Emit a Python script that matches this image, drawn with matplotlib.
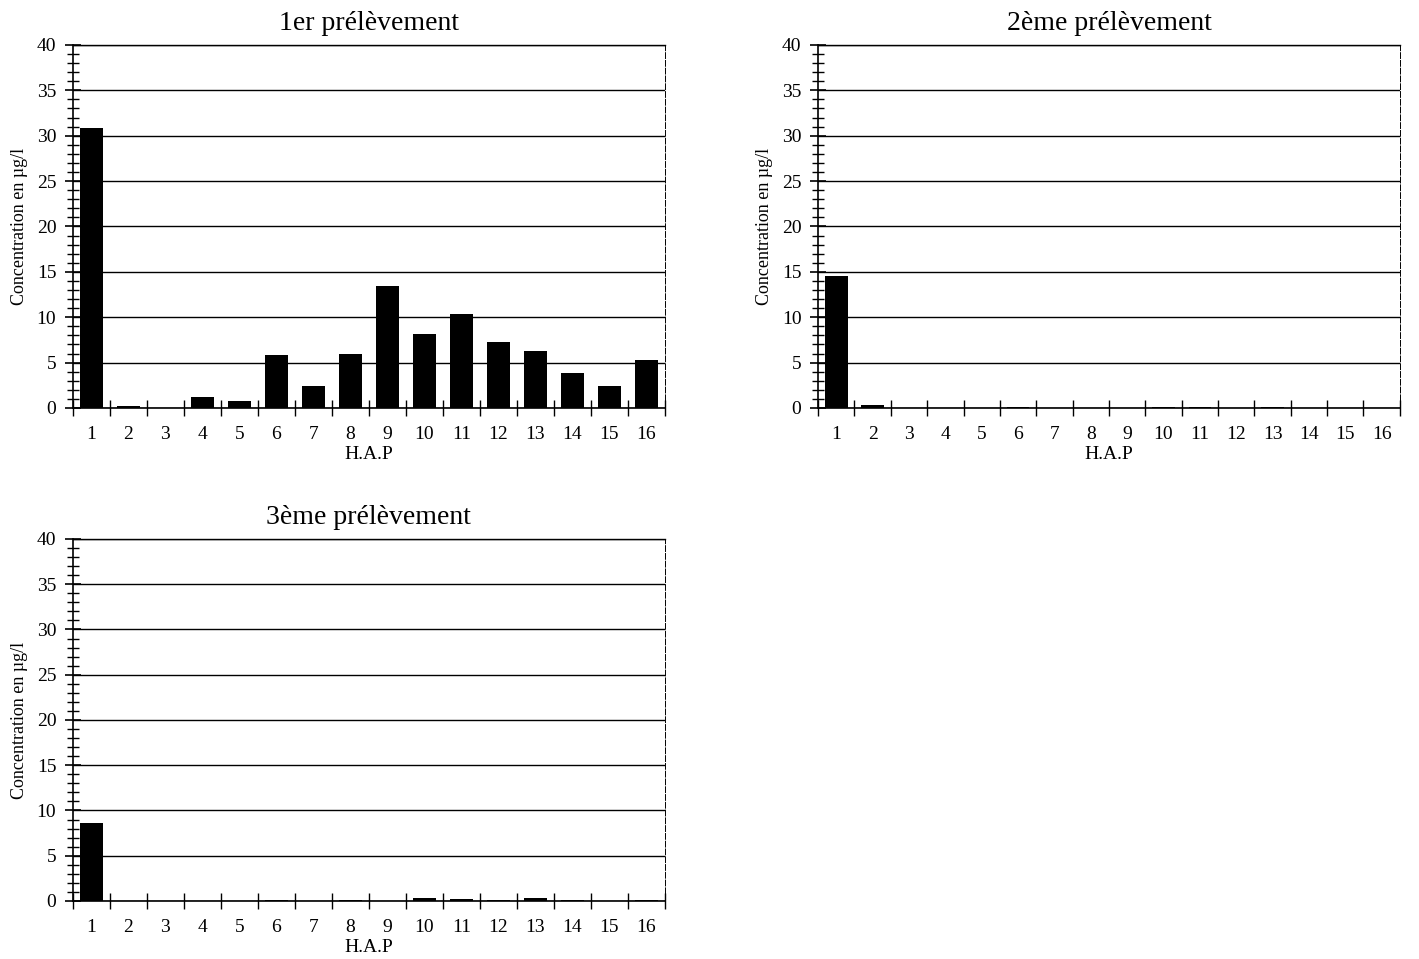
import numpy as np
import matplotlib
matplotlib.use('Agg')
import matplotlib.pyplot as plt
from matplotlib.ticker import MultipleLocator, FixedLocator

plt.rcParams['font.family'] = ['Liberation Serif', 'DejaVu Serif']

hap = list(range(1, 17))
prelevement_1 = [30.9, 0.2, 0.0, 1.2, 0.8, 5.8, 2.4, 5.9, 13.4, 8.1, 10.4, 7.3, 6.3, 3.9, 2.4, 5.3]
prelevement_2 = [14.5, 0.3, 0.0, 0.0, 0.0, 0.1, 0.0, 0.05, 0.0, 0.1, 0.08, 0.05, 0.15, 0.0, 0.0, 0.0]
prelevement_3 = [8.6, 0.0, 0.0, 0.05, 0.05, 0.15, 0.05, 0.15, 0.05, 0.3, 0.2, 0.1, 0.3, 0.1, 0.0, 0.15]
titles = ['1er prélèvement', '2ème prélèvement', '3ème prélèvement']

fig = plt.figure(figsize=(14.19, 9.59), dpi=100)
positions = [
    [0.0514, 0.5746, 0.417, 0.3785],
    [0.5765, 0.5746, 0.410, 0.3785],
    [0.0514, 0.0605, 0.417, 0.3775],
]

for pos, vals, title in zip(positions, [prelevement_1, prelevement_2, prelevement_3], titles):
    ax = fig.add_axes(pos)
    ax.bar(hap, vals, width=0.62, color='black', zorder=3)
    ax.set_xlim(0.5, 16.5)
    ax.set_ylim(0, 40)
    ax.yaxis.set_major_locator(MultipleLocator(5))
    ax.yaxis.set_minor_locator(MultipleLocator(1))
    ax.xaxis.set_major_locator(FixedLocator(hap))
    ax.xaxis.set_minor_locator(FixedLocator(np.arange(0.5, 17, 1)))
    ax.set_xticklabels([str(h) for h in hap])
    ax.tick_params(axis='x', which='major', length=0, labelsize=14, pad=13)
    ax.tick_params(axis='x', which='minor', direction='inout', length=12, width=1.0)
    ax.tick_params(axis='y', which='major', direction='inout', length=12, width=1.2, labelsize=14, pad=6)
    ax.tick_params(axis='y', which='minor', direction='inout', length=8, width=1.0)
    ax.grid(axis='y', which='major', color='black', linewidth=1.0, zorder=0)
    ax.spines['right'].set_linewidth(0.7)
    ax.spines['right'].set_linestyle((0, (6, 2)))
    ax.spines['top'].set_linewidth(1.0)
    ax.spines['left'].set_linewidth(1.2)
    ax.spines['bottom'].set_linewidth(1.2)
    ax.set_title(title, fontsize=20, pad=11)
    ax.set_xlabel('H.A.P', fontsize=14, labelpad=2)
    ax.set_ylabel('Concentration en µg/l', fontsize=13, labelpad=6)

plt.savefig('out.png', dpi=100)
